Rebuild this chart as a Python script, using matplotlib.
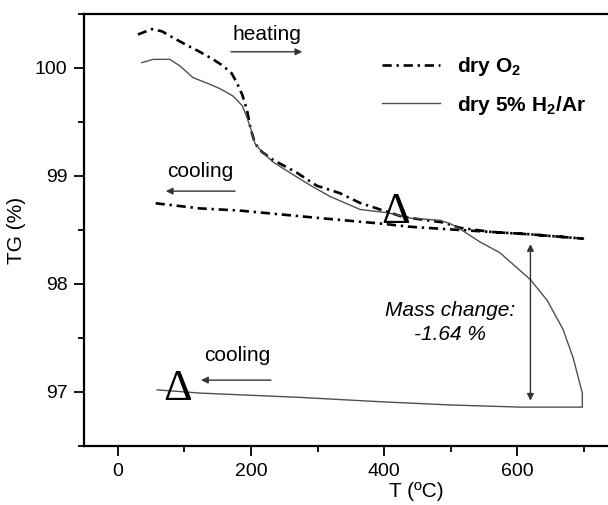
import matplotlib.pyplot as plt
from matplotlib.lines import Line2D
from matplotlib.ticker import FixedLocator, MultipleLocator

plt.rcParams["font.family"] = ["Liberation Sans", "DejaVu Sans"]
plt.rcParams["mathtext.fontset"] = "custom"
plt.rcParams["mathtext.rm"] = "Liberation Sans"
plt.rcParams["mathtext.bf"] = "Liberation Sans:bold"

# TG curves
o2_heat_T = [30, 51, 66, 83, 104, 123, 143, 158, 171, 179, 187, 194, 199, 206, 217,
             233, 269, 299, 334, 364, 429, 489, 514, 564, 620, 699]
o2_heat_tg = [100.31, 100.36, 100.34, 100.28, 100.21, 100.15, 100.08, 100.02, 99.95,
              99.86, 99.75, 99.61, 99.45, 99.30, 99.22, 99.15, 99.03, 98.91, 98.84,
              98.75, 98.62, 98.57, 98.52, 98.48, 98.46, 98.42]
o2_cool_T = [699, 620, 514, 489, 439, 394, 304, 183, 123, 53]
o2_cool_tg = [98.42, 98.46, 98.50, 98.51, 98.53, 98.56, 98.61, 98.68, 98.70, 98.75]

h2_heat_T = [36, 53, 78, 93, 113, 134, 153, 173, 187, 194, 199, 206, 217, 233, 269,
             293, 319, 364, 405, 439, 484, 499, 514, 544, 574, 620, 645, 669, 684, 698, 698]
h2_heat_tg = [100.05, 100.08, 100.08, 100.02, 99.91, 99.86, 99.81, 99.74, 99.65, 99.54,
              99.45, 99.30, 99.22, 99.13, 98.99, 98.90, 98.81, 98.69, 98.66, 98.61,
              98.59, 98.56, 98.51, 98.39, 98.29, 98.04, 97.85, 97.58, 97.32, 96.99, 96.86]
h2_cool_T = [698, 604, 500, 394, 274, 123, 59]
h2_cool_tg = [96.86, 96.86, 96.88, 96.91, 96.95, 96.99, 97.02]

x_major = [0, 200, 400, 600]
x_minor = [100, 300, 500, 700]

fig = plt.figure(figsize=(6.08, 5.05), dpi=100)
# the original frame runs past the right edge of the picture
ax = fig.add_axes([84 / 608, 59 / 505, 664 / 608, 432 / 505])

dashdot = (3.5, 1.8, 0.9, 1.8)
ax.plot(o2_heat_T + o2_cool_T, o2_heat_tg + o2_cool_tg, color="black",
        linewidth=1.9, dashes=dashdot)
ax.plot(h2_heat_T + h2_cool_T, h2_heat_tg + h2_cool_tg, color="#505050",
        linewidth=1.0)

ax.set_xlim(-51, 947)
ax.set_ylim(96.5, 100.5)
ax.xaxis.set_major_locator(FixedLocator(x_major))
ax.xaxis.set_minor_locator(FixedLocator(x_minor))
ax.yaxis.set_major_locator(MultipleLocator(1))
ax.yaxis.set_minor_locator(MultipleLocator(0.5))
ax.tick_params(which="major", direction="out", length=7, width=1.3,
               labelsize=14, pad=5)
ax.tick_params(which="minor", direction="out", length=4, width=1.3)
ax.tick_params(top=False, right=False, which="both")
for s in ("left", "bottom", "top"):
    ax.spines[s].set_linewidth(1.6)
ax.spines["right"].set_visible(False)

ax.set_xlabel("T (ºC)", fontsize=15, labelpad=2)
ax.set_ylabel("TG (%)", fontsize=15, labelpad=6)

# annotations
arrow = dict(arrowstyle="-|>", color="#333333", lw=1.0, mutation_scale=10,
             shrinkA=0, shrinkB=0)
ax.text(224, 100.31, "heating", fontsize=15, ha="center", va="center")
ax.annotate("", xy=(277, 100.15), xytext=(170, 100.15), arrowprops=arrow)
ax.text(123, 99.04, "cooling", fontsize=15, ha="center", va="center")
ax.annotate("", xy=(72, 98.86), xytext=(176, 98.86), arrowprops=arrow)
ax.text(179, 97.34, "cooling", fontsize=15, ha="center", va="center")
ax.annotate("", xy=(125, 97.11), xytext=(230, 97.11), arrowprops=arrow)

ax.text(417, 98.67, "Δ", fontsize=32, family="Liberation Serif",
        ha="center", va="center")
ax.text(89, 97.03, "Δ", fontsize=32, family="Liberation Serif",
        ha="center", va="center")

ax.annotate("", xy=(620, 98.37), xytext=(620, 96.92),
            arrowprops=dict(arrowstyle="<|-|>", color="#333333", lw=1.0,
                            mutation_scale=10, shrinkA=0, shrinkB=0))
ax.text(499, 97.645, "Mass change:\n-1.64 %", fontsize=15, style="italic",
        ha="center", va="center", linespacing=1.3)

handles = [Line2D([], [], color="black", linewidth=1.9, dashes=dashdot),
           Line2D([], [], color="#505050", linewidth=1.0)]
labels = [r"dry O$_\mathbf{2}$", r"dry 5% H$_\mathbf{2}$/Ar"]
ax.legend(handles, labels, loc="upper left", bbox_to_anchor=(0.449, 0.905),
          frameon=False, borderpad=0, borderaxespad=0, handlelength=2.8,
          handletextpad=0.8, labelspacing=0.75,
          prop={"size": 15, "weight": "bold"})

fig.savefig("out.png", dpi=100)
